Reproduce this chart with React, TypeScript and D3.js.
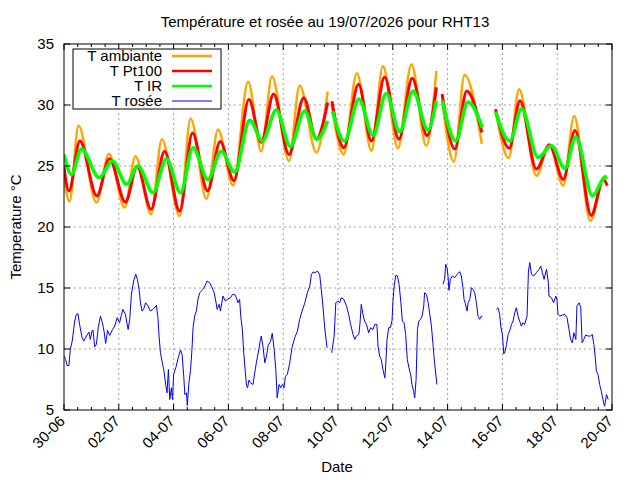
import * as d3 from "d3";

const DAY = 864e5;
const START = Date.UTC(2026, 5, 30);

// [jour depuis 30-06 00:00, valeur °C] ; NaN = trou dans les mesures
type Pt = [number, number];

const xTickDays = [0, 2, 4, 6, 8, 10, 12, 14, 16, 18, 20];
const xTickLabels = ["30-06", "02-07", "04-07", "06-07", "08-07", "10-07", "12-07", "14-07", "16-07", "18-07", "20-07"];
const yTicks = [5, 10, 15, 20, 25, 30, 35];

const tAmbiante: Pt[] = [
  [0, 23.9], [0.2, 22.1], [0.53, 28.3], [1.18, 22.0], [1.64, 26.0], [2.21, 21.6], [2.61, 25.8],
  [3.18, 21.05], [3.57, 27.2], [4.22, 20.9], [4.62, 28.9], [5.2, 22.3], [5.62, 28.0], [6.17, 23.4],
  [6.72, 31.9], [7.2, 26.2], [7.59, 32.35], [8.21, 25.4], [8.6, 31.6], [9.21, 26.1], [9.62, 31.1],
  [9.7, NaN],
  [9.78, 29.9], [10.2, 25.95], [10.69, 32.6], [11.22, 26.25], [11.64, 33.2], [12.19, 26.45],
  [12.68, 33.35], [13.22, 26.65], [13.59, 32.8],
  [13.7, NaN],
  [13.8, 30.4], [14.23, 25.35], [14.62, 32.45], [15.25, 26.8],
  [15.5, NaN],
  [15.75, 29.6], [16.23, 25.65], [16.61, 31.3], [17.24, 24.2], [17.71, 26.8], [18.22, 23.4],
  [18.62, 29.1], [19.21, 20.5], [19.7, 24.1], [19.8, 24.2],
];

const tPt100: Pt[] = [
  [0, 24.9], [0.18, 22.95], [0.58, 27.05], [1.2, 22.55], [1.66, 25.6], [2.24, 22.05], [2.67, 24.95],
  [3.18, 21.45], [3.67, 26.2], [4.22, 21.3], [4.69, 27.7], [5.24, 22.95], [5.7, 27.0], [6.2, 23.8],
  [6.75, 30.45], [7.2, 26.95], [7.65, 30.9], [8.21, 25.95], [8.75, 30.6], [9.21, 27.2], [9.62, 30.2],
  [9.7, NaN],
  [9.78, 30.3], [10.21, 26.5], [10.75, 31.7], [11.22, 27.05], [11.7, 32.3], [12.22, 27.2],
  [12.71, 32.2], [13.25, 27.5], [13.59, 31.45],
  [13.7, NaN],
  [13.8, 30.9], [14.26, 26.4], [14.7, 31.15], [15.25, 27.75],
  [15.5, NaN],
  [15.75, 29.65], [16.25, 26.45], [16.64, 30.35], [17.24, 24.75], [17.72, 26.7], [18.22, 23.9],
  [18.65, 27.9], [19.24, 20.95], [19.68, 23.9], [19.83, 23.4],
];

const tIR: Pt[] = [
  [0, 25.95], [0.27, 24.3], [0.64, 26.4], [1.28, 24.05], [1.77, 25.4], [2.28, 23.5], [2.7, 25.0],
  [3.25, 22.8], [3.74, 25.6], [4.25, 22.8], [4.71, 26.5], [5.25, 23.9], [5.74, 26.2], [6.23, 24.5],
  [6.78, 28.75], [7.24, 27.05], [7.75, 29.6], [8.26, 26.6], [8.78, 29.5], [9.23, 27.2], [9.62, 28.7],
  [9.7, NaN],
  [9.8, 29.5], [10.24, 27.05], [10.76, 30.5], [11.28, 27.5], [11.76, 30.95], [12.25, 27.8],
  [12.74, 31.15], [13.28, 27.95], [13.59, 30.35],
  [13.7, NaN],
  [13.81, 30.35], [14.3, 27.05], [14.74, 30.25], [15.27, 28.15],
  [15.5, NaN],
  [15.75, 29.45], [16.27, 27.05], [16.7, 29.7], [17.3, 25.7], [17.79, 26.65], [18.28, 24.8],
  [18.68, 27.4], [19.29, 22.55], [19.7, 24.0], [19.83, 24.1],
];

const tRosee: Pt[] = [
  [0, 9.42], [0.06, 9.14], [0.11, 8.65], [0.18, 8.65], [0.23, 9.96], [0.3, 10.65], [0.39, 12.29],
  [0.45, 12.84], [0.51, 12.89], [0.57, 12.0], [0.66, 10.92], [0.72, 10.65], [0.82, 11.06], [0.91, 11.39],
  [0.96, 10.78], [1.02, 11.47], [1.06, 11.55], [1.12, 10.18], [1.18, 10.37], [1.25, 11.74], [1.33, 12.7],
  [1.4, 12.15], [1.46, 11.47], [1.52, 10.46], [1.59, 11.52], [1.67, 11.11], [1.77, 11.6], [1.85, 11.88],
  [1.94, 12.56], [2.03, 12.15], [2.09, 12.75], [2.15, 13.25], [2.24, 12.84], [2.34, 11.6], [2.4, 12.43],
  [2.46, 14.48], [2.54, 15.57], [2.62, 16.12], [2.68, 15.71], [2.74, 14.89], [2.79, 13.79], [2.85, 13.11],
  [2.91, 13.3], [2.98, 13.79], [3.07, 13.52], [3.15, 13.11], [3.25, 13.25], [3.37, 13.57], [3.43, 12.56],
  [3.47, 11.06], [3.52, 9.69], [3.59, 8.87], [3.65, 8.18], [3.71, 7.09], [3.76, 6.41], [3.81, 8.32],
  [3.86, 5.86], [3.92, 6.82], [3.96, 5.86], [4.0, 7.91], [4.08, 8.46], [4.16, 9.2], [4.25, 9.91],
  [4.31, 9.55], [4.37, 7.77], [4.41, 6.27], [4.47, 6.41], [4.5, 5.37], [4.56, 7.23], [4.62, 8.32],
  [4.67, 9.96], [4.71, 11.74], [4.77, 12.7], [4.83, 13.11], [4.89, 14.07], [4.95, 14.61], [5.05, 14.83],
  [5.14, 15.16], [5.22, 15.57], [5.32, 15.43], [5.41, 15.02], [5.48, 14.61], [5.54, 13.93], [5.59, 13.25],
  [5.66, 13.66], [5.71, 13.11], [5.8, 14.34], [5.89, 13.93], [5.99, 14.12], [6.08, 14.2], [6.15, 14.48],
  [6.23, 14.48], [6.29, 14.2], [6.35, 13.79], [6.41, 14.07], [6.45, 12.7], [6.51, 11.6], [6.56, 9.69],
  [6.61, 8.32], [6.66, 7.0], [6.7, 6.82], [6.75, 7.45], [6.81, 7.23], [6.9, 7.09], [6.96, 8.05],
  [7.02, 8.87], [7.11, 9.96], [7.17, 10.78], [7.2, 11.06], [7.26, 10.24], [7.33, 8.87], [7.39, 9.42],
  [7.45, 10.29], [7.54, 10.65], [7.6, 11.28], [7.67, 9.96], [7.73, 8.32], [7.78, 6.0], [7.85, 7.09],
  [7.91, 6.82], [7.97, 7.09], [8.03, 6.82], [8.08, 7.77], [8.15, 7.91], [8.24, 8.87], [8.32, 10.1],
  [8.42, 10.92], [8.52, 11.47], [8.6, 12.43], [8.69, 13.11], [8.79, 13.79], [8.88, 14.61], [8.97, 15.16],
  [9.03, 16.12], [9.09, 16.31], [9.17, 16.26], [9.25, 16.39], [9.33, 16.12], [9.39, 14.89], [9.45, 13.52],
  [9.51, 11.88], [9.55, 11.06], [9.6, 10.1],
  [9.7, NaN],
  [9.77, 9.69], [9.86, 11.06], [9.92, 13.79], [10.0, 13.93], [10.06, 13.79], [10.12, 14.2], [10.21, 14.07],
  [10.31, 13.52], [10.39, 12.84], [10.46, 12.02], [10.55, 11.19], [10.61, 10.78], [10.67, 11.06],
  [10.76, 11.19], [10.8, 12.02], [10.85, 13.66], [10.91, 12.84], [10.97, 12.29], [11.04, 12.02],
  [11.12, 11.33], [11.19, 11.74], [11.28, 11.6], [11.34, 12.02], [11.42, 12.02], [11.46, 10.24],
  [11.52, 9.42], [11.58, 9.14], [11.64, 8.32], [11.71, 7.64], [11.74, 8.6], [11.79, 10.78], [11.85, 11.74],
  [11.91, 11.74], [11.97, 12.29], [12.01, 14.07], [12.05, 15.16], [12.11, 16.04], [12.17, 15.98],
  [12.23, 15.3], [12.29, 13.93], [12.35, 12.29], [12.41, 12.15], [12.47, 11.19], [12.53, 9.14],
  [12.59, 8.46], [12.65, 7.91], [12.7, 7.09], [12.76, 6.54], [12.8, 6.0], [12.85, 7.5], [12.9, 11.6],
  [12.95, 12.29], [13.01, 12.43], [13.07, 12.7], [13.13, 13.52], [13.16, 14.61], [13.23, 14.48],
  [13.29, 13.79], [13.35, 12.84], [13.41, 11.88], [13.47, 10.3], [13.53, 8.73], [13.61, 7.09],
  [13.7, NaN],
  [13.83, 15.3], [13.89, 15.71], [13.93, 16.94], [13.98, 16.67], [14.02, 15.85], [14.05, 14.81],
  [14.1, 15.71], [14.17, 15.98], [14.26, 15.85], [14.35, 16.12], [14.44, 16.34], [14.5, 15.98],
  [14.56, 15.02], [14.6, 14.07], [14.65, 13.71], [14.71, 13.11], [14.75, 13.79], [14.81, 14.07],
  [14.87, 15.02], [14.93, 14.89], [14.99, 14.61], [15.05, 13.79], [15.11, 12.7], [15.17, 12.43],
  [15.23, 12.7], [15.27, 12.7],
  [15.5, NaN],
  [15.78, 13.25], [15.84, 13.38], [15.9, 12.84], [15.94, 11.88], [16.0, 11.19], [16.05, 9.61],
  [16.1, 9.83], [16.15, 10.37], [16.21, 11.19], [16.27, 11.52], [16.33, 12.01], [16.39, 12.29],
  [16.45, 12.97], [16.51, 13.38], [16.57, 12.7], [16.63, 12.29], [16.69, 11.88], [16.75, 12.15],
  [16.81, 12.01], [16.9, 12.7], [16.95, 16.39], [17.0, 17.08], [17.06, 16.12], [17.14, 15.98],
  [17.24, 16.26], [17.34, 16.53], [17.4, 16.8], [17.46, 16.26], [17.52, 15.71], [17.61, 16.53],
  [17.67, 15.57], [17.7, 14.34], [17.79, 14.2], [17.87, 13.79], [17.95, 14.34], [17.99, 14.07],
  [18.03, 12.84], [18.09, 12.7], [18.19, 12.78], [18.27, 12.84], [18.36, 12.56], [18.43, 11.6],
  [18.49, 10.78], [18.55, 10.51], [18.61, 11.33], [18.68, 10.78], [18.72, 13.52], [18.8, 13.79],
  [18.86, 13.38], [18.91, 10.51], [18.97, 10.78], [19.04, 11.14], [19.13, 11.06], [19.21, 11.06],
  [19.28, 11.19], [19.34, 10.37], [19.39, 9.28], [19.43, 8.18], [19.49, 7.91], [19.55, 7.09],
  [19.61, 6.54], [19.67, 5.86], [19.73, 5.31], [19.8, 6.27], [19.86, 5.86],
];

const series = [
  { name: "T ambiante", data: tAmbiante, color: "#ffa500", width: 2.5, smooth: true },
  { name: "T Pt100", data: tPt100, color: "#ff0000", width: 3, smooth: true },
  { name: "T IR", data: tIR, color: "#00ff00", width: 3.5, smooth: true },
  { name: "T rosée", data: tRosee, color: "#0000ff", width: 1, smooth: false },
];

const FONT = "'Liberation Sans', Arial, sans-serif";

export default function App() {
  const width = 640;
  const height = 480;
  const margin = { top: 44, right: 28, bottom: 70, left: 64 };
  const x0 = margin.left;
  const x1 = width - margin.right;
  const y0 = height - margin.bottom;
  const y1 = margin.top;

  const day = (d: number) => new Date(START + d * DAY);
  const x = d3.scaleUtc().domain([day(0), day(20)]).range([x0, x1]);
  const y = d3.scaleLinear().domain([5, 35]).range([y0, y1]);

  const minorDays = d3.range(0, 20.01, 0.5).filter((d) => d % 2 !== 0);

  const makeLine = (smooth: boolean) =>
    d3
      .line<Pt>()
      .defined((d) => !isNaN(d[1]))
      .x((d) => x(day(d[0])))
      .y((d) => y(d[1]))
      .curve(smooth ? d3.curveMonotoneX : d3.curveLinear);

  const grid = "#a0a0a0";

  return (
    <svg
      width={width}
      height={height}
      style={{ position: "absolute", left: 0, top: 0, background: "#fff" }}
      fontFamily={FONT}
      fontSize={15}
    >
      <rect width={width} height={height} fill="#fff" />
      <defs>
        <clipPath id="plot">
          <rect x={x0} y={y1} width={x1 - x0} height={y0 - y1} />
        </clipPath>
      </defs>

      {/* grille */}
      {xTickDays.slice(1, -1).map((d) => (
        <line key={"gx" + d} x1={x(day(d))} x2={x(day(d))} y1={y0} y2={y1} stroke={grid} strokeDasharray="2,3" />
      ))}
      {yTicks.slice(1, -1).map((v) => (
        <line key={"gy" + v} x1={x0} x2={x1} y1={y(v)} y2={y(v)} stroke={grid} strokeDasharray="2,3" />
      ))}

      {/* courbes */}
      <g clipPath="url(#plot)">
        {series.map((s) => (
          <path
            key={s.name}
            d={makeLine(s.smooth)(s.data) ?? ""}
            fill="none"
            stroke={s.color}
            strokeWidth={s.width}
            strokeLinejoin="round"
          />
        ))}
      </g>

      {/* cadre et graduations */}
      <rect x={x0} y={y1} width={x1 - x0} height={y0 - y1} fill="none" stroke="#000" strokeWidth={1} />
      {xTickDays.map((d) => (
        <g key={"tx" + d}>
          <line x1={x(day(d))} x2={x(day(d))} y1={y0} y2={y0 - 6} stroke="#000" />
          <line x1={x(day(d))} x2={x(day(d))} y1={y1} y2={y1 + 6} stroke="#000" />
        </g>
      ))}
      {minorDays.map((d) => (
        <g key={"mx" + d}>
          <line x1={x(day(d))} x2={x(day(d))} y1={y0} y2={y0 - 3} stroke="#000" />
          <line x1={x(day(d))} x2={x(day(d))} y1={y1} y2={y1 + 3} stroke="#000" />
        </g>
      ))}
      {yTicks.map((v) => (
        <g key={"ty" + v}>
          <line x1={x0} x2={x0 + 6} y1={y(v)} y2={y(v)} stroke="#000" />
          <line x1={x1} x2={x1 - 6} y1={y(v)} y2={y(v)} stroke="#000" />
          <text x={x0 - 10} y={y(v)} dy="0.36em" textAnchor="end">
            {v}
          </text>
        </g>
      ))}
      {xTickDays.map((d, i) => (
        <text
          key={"lx" + d}
          transform={`translate(${x(day(d)) + 2},${y0 + 12}) rotate(-45)`}
          textAnchor="end"
        >
          {xTickLabels[i]}
        </text>
      ))}

      {/* titres */}
      <text x={325} y={27} textAnchor="middle">
        Température et rosée au 19/07/2026 pour RHT13
      </text>
      <text x={337} y={472} textAnchor="middle">
        Date
      </text>
      <text transform={`translate(21,227) rotate(-90)`} textAnchor="middle">
        Temperature °C
      </text>

      {/* légende */}
      <rect x={73} y={49} width={148} height={60} fill="#fff" stroke="#000" />
      {series.map((s, i) => (
        <g key={"lg" + s.name} transform={`translate(0,${56 + i * 15})`}>
          <text x={162} y={0} dy="0.36em" textAnchor="end">
            {s.name}
          </text>
          <line x1={172} x2={212} y1={0} y2={0} stroke={s.color} strokeWidth={s.width === 1 ? 1 : 2.5} />
        </g>
      ))}
    </svg>
  );
}
